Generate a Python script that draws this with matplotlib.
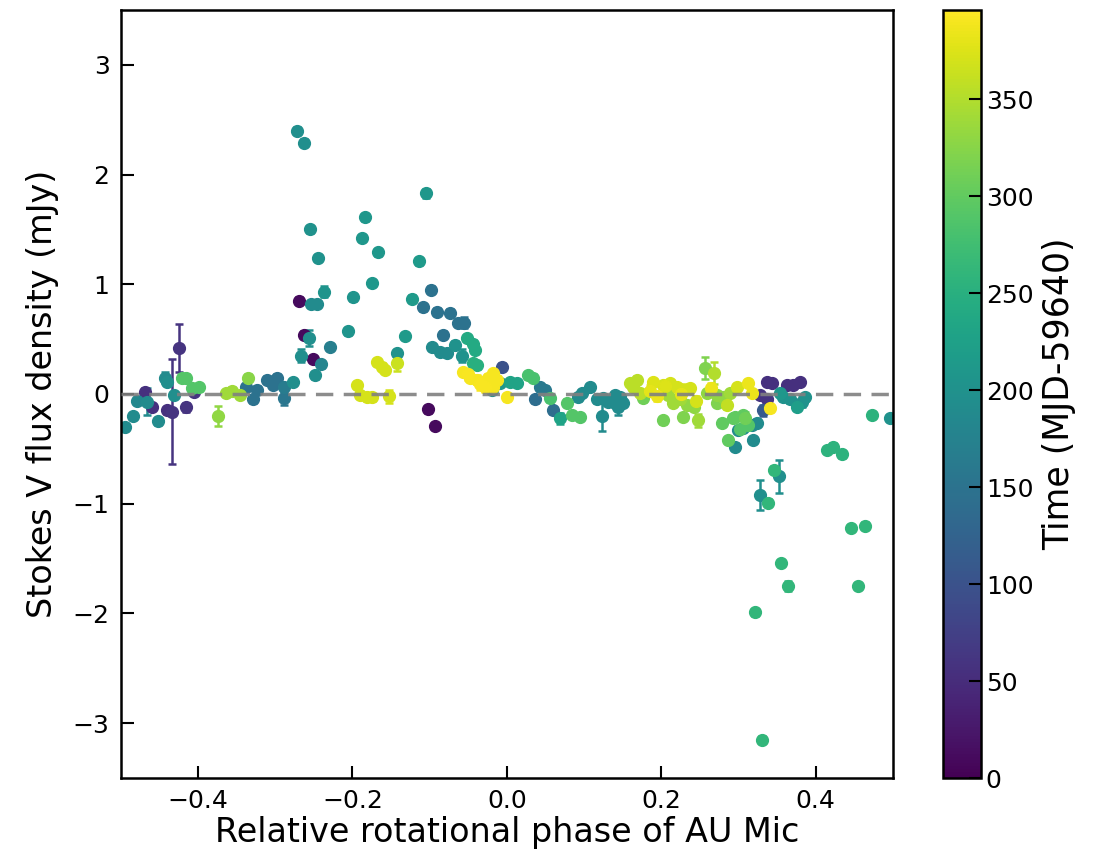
import numpy as np
import matplotlib
matplotlib.use('Agg')
import matplotlib.pyplot as plt
from matplotlib import colors, cm

# rotational phase, Stokes V flux density (mJy), error, time (MJD-59640)
phase = [-0.494, -0.484, -0.479, -0.469, -0.466, -0.460, -0.452, -0.443, -0.440, -0.440,
         -0.433, -0.424, -0.431, -0.421, -0.415, -0.415, -0.407, -0.398, -0.405,
         -0.374, -0.363, -0.356, -0.346, -0.335, -0.338, -0.329, -0.323, -0.311, -0.303,
         -0.297, -0.288, -0.288, -0.277,
         -0.272, -0.263, -0.269, -0.255, -0.253, -0.246, -0.245, -0.237, -0.266, -0.262,
         -0.256, -0.251, -0.249, -0.240, -0.229, -0.206, -0.199, -0.188, -0.183, -0.175,
         -0.167, -0.168, -0.162, -0.158, -0.194, -0.190, -0.181, -0.175, -0.153, -0.142,
         -0.142, -0.132, -0.123, -0.114, -0.104, -0.102, -0.093, -0.098, -0.108, -0.091,
         -0.073, -0.063, -0.056, -0.082, -0.097, -0.087, -0.078, -0.067, -0.052, -0.044,
         -0.058, -0.041, -0.044, -0.038, -0.057, -0.048, -0.039, -0.031, -0.025, -0.019,
         -0.006, -0.018, -0.013, -0.018, 0.000, -0.009, 0.004, 0.013, 0.027, 0.034,
         0.043, 0.049, 0.036, 0.056, 0.060, 0.069, 0.078, 0.085, 0.095, 0.092,
         0.098, 0.108, 0.117, 0.124, 0.123, 0.131, 0.140, 0.140, 0.146, 0.144,
         0.150, 0.159, 0.168, 0.163, 0.172, 0.189, 0.176, 0.202, 0.202, 0.211,
         0.220, 0.228, 0.237, 0.209, 0.215, 0.224, 0.233, 0.242, 0.228, 0.247,
         0.256, 0.268, 0.259, 0.272, 0.280, 0.289, 0.272, 0.298, 0.312, 0.317,
         0.308, 0.278, 0.293, 0.286, 0.295, 0.299, 0.306, 0.317, 0.324, 0.319,
         0.328, 0.337, 0.332, 0.341, 0.343, 0.337, 0.363, 0.370, 0.380, 0.358,
         0.367, 0.376, 0.382, 0.386, 0.354, 0.473, 0.496, 0.415, 0.422, 0.434,
         0.328, 0.338, 0.352, 0.346, 0.446, 0.464, 0.355, 0.364, 0.455, 0.321,
         0.330, 0.302, 0.312, 0.295, 0.306,
         0.185, 0.195, 0.205, 0.225, 0.245, 0.265, 0.285, -0.050, -0.035, -0.028]
flux = [-0.30, -0.20, -0.06, 0.02, -0.07, -0.12, -0.25, 0.15, 0.11, -0.15,
        -0.16, 0.42, -0.01, 0.15, 0.15, -0.12, 0.05, 0.06, 0.02,
        -0.20, 0.01, 0.03, -0.01, 0.15, 0.06, -0.05, 0.04, 0.13, 0.08,
        0.15, 0.06, -0.04, 0.11,
        2.40, 2.29, 0.85, 1.50, 0.82, 0.82, 1.24, 0.93, 0.35, 0.54,
        0.51, 0.32, 0.17, 0.27, 0.43, 0.57, 0.88, 1.42, 1.61, 1.01,
        1.29, 0.29, 0.25, 0.22, 0.08, -0.01, -0.03, -0.03, -0.02, 0.28,
        0.37, 0.53, 0.87, 1.21, 1.83, -0.14, -0.29, 0.95, 0.79, 0.75,
        0.74, 0.65, 0.65, 0.54, 0.43, 0.38, 0.37, 0.45, 0.51, 0.46,
        0.35, 0.40, 0.28, 0.26, 0.20, 0.15, 0.13, 0.11, 0.15, 0.04,
        0.25, 0.19, 0.13, 0.06, -0.03, 0.10, 0.11, 0.10, 0.17, 0.15,
        0.06, 0.04, -0.05, -0.04, -0.15, -0.22, -0.08, -0.19, -0.21, -0.03,
        0.01, 0.06, -0.05, -0.04, -0.20, -0.07, -0.08, -0.01, -0.03, -0.12,
        -0.08, 0.10, 0.13, 0.06, 0.01, 0.11, -0.04, -0.24, 0.08, 0.10,
        0.06, 0.04, 0.05, -0.01, -0.08, -0.05, -0.10, -0.12, -0.21, -0.24,
        0.24, 0.19, 0.01, -0.01, -0.03, 0.01, -0.08, 0.06, 0.10, 0.01,
        -0.22, -0.26, -0.22, -0.42, -0.48, -0.33, -0.31, -0.28, -0.26, -0.42,
        -0.01, -0.05, -0.15, -0.13, 0.10, 0.11, 0.08, 0.08, 0.11, -0.03,
        -0.05, -0.12, -0.07, -0.03, 0.01, -0.19, -0.22, -0.51, -0.48, -0.55,
        -0.92, -0.99, -0.75, -0.69, -1.22, -1.20, -1.54, -1.75, -1.75, -1.99,
        -3.15, -0.32, -0.28, -0.21, -0.19,
        0.03, -0.02, 0.07, 0.00, -0.06, 0.05, -0.10, 0.18, 0.09, 0.06]
flux_err = [0.03, 0.03, 0.03, 0.03, 0.12, 0.03, 0.03, 0.05, 0.03, 0.03,
            0.48, 0.22, 0.03, 0.03, 0.03, 0.04, 0.03, 0.03, 0.03,
            0.09, 0.03, 0.03, 0.03, 0.03, 0.03, 0.03, 0.03, 0.03, 0.03,
            0.03, 0.03, 0.06, 0.03,
            0.03, 0.03, 0.03, 0.03, 0.03, 0.03, 0.03, 0.05, 0.06, 0.03,
            0.07, 0.03, 0.03, 0.03, 0.03, 0.03, 0.03, 0.03, 0.03, 0.03,
            0.03, 0.03, 0.03, 0.03, 0.03, 0.03, 0.03, 0.03, 0.06, 0.07,
            0.03, 0.03, 0.03, 0.03, 0.04, 0.03, 0.03, 0.03, 0.03, 0.03,
            0.03, 0.03, 0.05, 0.03, 0.03, 0.03, 0.03, 0.03, 0.03, 0.03,
            0.06, 0.03, 0.03, 0.03, 0.03, 0.03, 0.04, 0.04, 0.03, 0.03,
            0.03, 0.03, 0.03, 0.03, 0.03, 0.03, 0.03, 0.03, 0.03, 0.03,
            0.03, 0.03, 0.03, 0.03, 0.03, 0.05, 0.03, 0.03, 0.03, 0.03,
            0.03, 0.03, 0.03, 0.03, 0.14, 0.03, 0.03, 0.03, 0.03, 0.07,
            0.03, 0.03, 0.03, 0.03, 0.03, 0.03, 0.03, 0.03, 0.03, 0.03,
            0.03, 0.05, 0.03, 0.03, 0.03, 0.03, 0.03, 0.03, 0.03, 0.06,
            0.10, 0.10, 0.03, 0.03, 0.03, 0.03, 0.03, 0.03, 0.03, 0.03,
            0.06, 0.03, 0.03, 0.03, 0.03, 0.03, 0.03, 0.03, 0.03, 0.03,
            0.03, 0.03, 0.05, 0.03, 0.03, 0.03, 0.03, 0.03, 0.03, 0.03,
            0.03, 0.03, 0.05, 0.03, 0.03, 0.03, 0.03, 0.03, 0.03, 0.03,
            0.14, 0.03, 0.15, 0.03, 0.03, 0.03, 0.03, 0.05, 0.03, 0.03,
            0.03, 0.03, 0.03, 0.03, 0.03,
            0.05, 0.04, 0.05, 0.04, 0.04, 0.05, 0.04, 0.05, 0.05, 0.04]
time = [190, 190, 185, 55, 190, 55, 190, 190, 195, 55,
        60, 60, 195, 290, 290, 60, 290, 290, 60,
        330, 340, 340, 340, 325, 150, 150, 150, 150, 150,
        150, 165, 155, 195,
        195, 195, 10, 200, 190, 190, 200, 205, 195, 10,
        195, 10, 195, 180, 170, 205, 205, 210, 210, 210,
        210, 370, 370, 370, 370, 370, 370, 370, 370, 365,
        200, 215, 215, 215, 210, 10, 10, 150, 150, 150,
        150, 150, 150, 150, 190, 190, 190, 200, 240, 240,
        200, 240, 250, 250, 390, 390, 390, 390, 390, 200,
        100, 390, 390, 390, 390, 210, 230, 230, 280, 280,
        160, 160, 140, 280, 140, 230, 290, 290, 290, 190,
        190, 190, 190, 190, 190, 190, 190, 190, 190, 190,
        190, 355, 355, 355, 355, 375, 310, 310, 370, 370,
        370, 370, 370, 340, 340, 340, 330, 330, 320, 340,
        320, 350, 330, 330, 330, 340, 320, 370, 385, 385,
        310, 300, 300, 300, 190, 190, 190, 190, 190, 190,
        60, 60, 110, 390, 55, 55, 55, 55, 55, 200,
        200, 220, 200, 200, 210, 255, 200, 255, 255, 255,
        195, 260, 195, 260, 260, 260, 260, 260, 260, 260,
        260, 290, 290, 300, 300,
        380, 385, 375, 380, 370, 385, 360, 392, 392, 392]

fig = plt.figure(figsize=(10.97, 8.64), dpi=100)
ax = fig.add_axes([0.110, 0.0995, 0.704, 0.889])
cax = fig.add_axes([0.8596, 0.0995, 0.0346, 0.889])

norm = colors.Normalize(vmin=0, vmax=396)
cmap = plt.get_cmap('viridis')

# later observations drawn on top
for i in np.argsort(time, kind='stable'):
    c = cmap(norm(time[i]))
    ax.errorbar(phase[i], flux[i], yerr=flux_err[i], fmt='o', color=c, ms=8.5,
                capsize=3, elinewidth=1.8, capthick=1.8)

ax.axhline(0, color='gray', ls=(0, (5, 3)), lw=2.5, alpha=0.9, zorder=5)

ax.set_xlim(-0.5, 0.5)
ax.set_ylim(-3.5, 3.5)
ax.set_xticks([-0.4, -0.2, 0.0, 0.2, 0.4])
ax.set_yticks([-3, -2, -1, 0, 1, 2, 3])
ax.tick_params(direction='in', length=9, width=1.5, labelsize=18, pad=8)
for s in ax.spines.values():
    s.set_linewidth(1.8)
ax.set_xlabel('Relative rotational phase of AU Mic', fontsize=24, labelpad=2)
ax.set_ylabel('Stokes V flux density (mJy)', fontsize=24, labelpad=10)

cb = fig.colorbar(cm.ScalarMappable(norm=norm, cmap=cmap), cax=cax)
cb.set_ticks([0, 50, 100, 150, 200, 250, 300, 350])
cb.ax.tick_params(direction='in', length=9, width=1.5, labelsize=18)
cb.outline.set_linewidth(1.8)
cb.set_label('Time (MJD-59640)', fontsize=25, labelpad=6)

fig.savefig('out.png', dpi=100)
